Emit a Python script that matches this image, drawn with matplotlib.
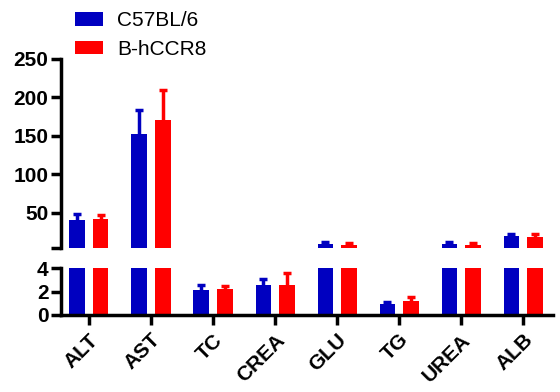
import matplotlib
matplotlib.use("Agg")
import matplotlib.pyplot as plt
import numpy as np

plt.rcParams['font.family'] = ['Liberation Sans', 'DejaVu Sans']

categories = ["ALT", "AST", "TC", "CREA", "GLU", "TG", "UREA", "ALB"]
groups = ["C57BL/6", "B-hCCR8"]
colors = ["#0000C0", "#FF0000"]

# means and SD (upper error only)
c57_mean = [41, 152, 2.13, 2.55, 9.6, 0.94, 9.6, 20.0]
c57_sd = [7.5, 31, 0.42, 0.5, 2.7, 0.2, 2.2, 2.7]
hccr8_mean = [42, 171, 2.2, 2.55, 8.3, 1.19, 8.3, 18.7]
hccr8_sd = [4.5, 39, 0.25, 1.0, 2.6, 0.37, 2.6, 3.0]

W, H = 560, 392
fig = plt.figure(figsize=(W / 100, H / 100), dpi=100)

x0, x1 = 61, 553
ax_top = fig.add_axes([x0 / W, (H - 248) / H, (x1 - x0) / W, (248 - 59) / H])
ax_bot = fig.add_axes([x0 / W, (H - 315) / H, (x1 - x0) / W, (315 - 268) / H])

x = np.arange(len(categories))
width = 0.25
offs = [-0.19, 0.19]
means = [np.array(c57_mean), np.array(hccr8_mean)]
sds = [np.array(c57_sd), np.array(hccr8_sd)]

for ax, lo in ((ax_top, 4), (ax_bot, 0)):
    for i in range(2):
        # in the upper panel only draw what reaches above the break
        show = means[i] + sds[i] > lo
        xs = x[show] + offs[i]
        m = means[i][show]
        tops = m + sds[i][show]
        ax.bar(xs[m > lo], m[m > lo], width, color=colors[i], label=groups[i])
        ax.vlines(xs, m, tops, color=colors[i], linewidth=2.5)
        ax.plot(xs, tops, linestyle='none', marker='_', markersize=6,
                markeredgewidth=2.5, color=colors[i])
    ax.set_xlim(-0.45, 7.48)
    for s in ("top", "right"):
        ax.spines[s].set_visible(False)
    ax.spines["left"].set_linewidth(2.5)
    ax.spines["bottom"].set_linewidth(2.5)
    ax.tick_params(axis='y', width=2.5, length=7, labelsize=15, pad=2)

ax_top.set_ylim(4, 250)
ax_top.set_yticks([4, 50, 100, 150, 200, 250])
ax_top.set_yticklabels(["", "50", "100", "150", "200", "250"], fontweight='bold')
ax_top.spines["bottom"].set_visible(False)
ax_top.set_xticks([])

ax_bot.set_ylim(0, 4)
ax_bot.set_yticks([0, 2, 4])
ax_bot.set_yticklabels(["0", "2", "4"], fontweight='bold')
ax_bot.set_xticks(x)
ax_bot.set_xticklabels(categories, rotation=45, ha='right', rotation_mode='anchor',
                       fontsize=15, fontweight='bold')
ax_bot.tick_params(axis='x', width=2.5, length=7, pad=4)

ax_top.legend(loc='upper left', bbox_to_anchor=(64 / W, 1.0), bbox_transform=fig.transFigure,
              frameon=False, fontsize=15, handlelength=1.3, handleheight=0.6,
              handletextpad=0.7, labelspacing=0.45, borderaxespad=0.15)

fig.savefig("out.png", dpi=100)
